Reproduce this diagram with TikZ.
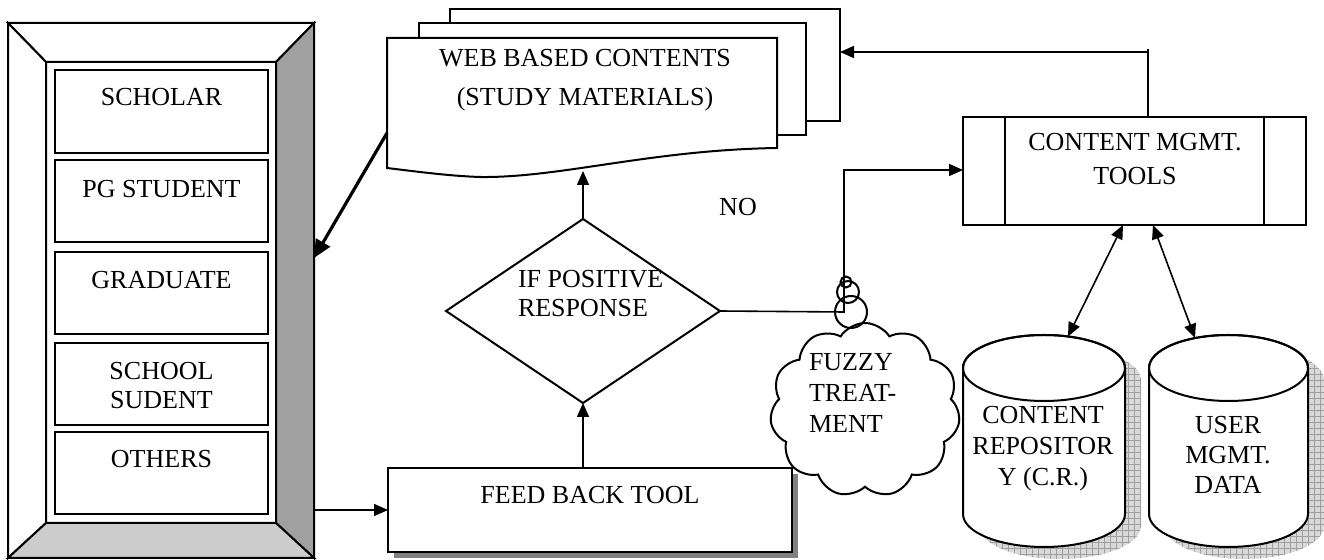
\documentclass[tikz,border=0pt]{standalone}
\usepackage{fontspec}
\setmainfont{Liberation Serif}
\usetikzlibrary{arrows.meta,shapes.symbols,shapes.geometric,patterns}
\definecolor{bevdark}{HTML}{A0A0A0}
\definecolor{bevlight}{HTML}{CCCCCC}
\definecolor{shadowgray}{HTML}{808080}
\begin{document}
\begin{tikzpicture}[x=0.5pt,y=-0.5pt, line width=1pt, line join=miter,
  txt/.style={font=\fontsize{13}{15}\selectfont, inner sep=0pt, align=center},
  arr/.style={-{Triangle[length=7pt,width=6pt]}, line width=0.8pt},
  darr/.style={{Triangle[length=7pt,width=6pt]}-{Triangle[length=7pt,width=6pt]}, line width=0.8pt},
  ubox/.style={draw, fill=white, line width=1pt, inner sep=0pt, outer sep=0pt}]
\useasboundingbox (0,0) rectangle (1324,560);

% ---- bevel frame of users
\filldraw[fill=white] (8,23) -- (314,23) -- (276,62) -- (46,62) -- cycle;
\filldraw[fill=white] (8,23) -- (46,62) -- (46,523) -- (8,558) -- cycle;
\filldraw[fill=bevdark] (314,23) -- (314,558) -- (276,523) -- (276,62) -- cycle;
\filldraw[fill=bevlight] (8,558) -- (314,558) -- (276,523) -- (46,523) -- cycle;
\draw (46,62) rectangle (276,523);
\coordinate (usrA) at (314,258);
\coordinate (usrB) at (314,510);

\node[ubox, minimum width=106.5pt, minimum height=41.5pt] (b1) at (161.5,111.5) {};
\node[ubox, minimum width=106.5pt, minimum height=41pt] (b2) at (161.5,201) {};
\node[ubox, minimum width=106.5pt, minimum height=41pt] (b3) at (161.5,293) {};
\node[ubox, minimum width=106.5pt, minimum height=41pt] (b4) at (161.5,384) {};
\node[ubox, minimum width=106.5pt, minimum height=41pt] (b5) at (161.5,473) {};
\node[txt] (t1) at (161.5,97) {SCHOLAR};
\node[txt] (t2) at (161.5,189) {PG STUDENT};
\node[txt] (t3) at (161.5,280) {GRADUATE};
\node[txt, font=\fontsize{13}{14.5}\selectfont] (t4) at (161.5,386) {SCHOOL\\SUDENT};
\node[txt] (t5) at (161.5,459) {OTHERS};

% ---- web based contents (multi document)
\filldraw[fill=white] (450,9) rectangle (840,121);
\filldraw[fill=white] (419,23) rectangle (806,135);
\filldraw[fill=white] (387,38) -- (777,38) -- (777,148)
  .. controls (650,150) and (560,178) .. (480,177)
  .. controls (450,176) and (420,172) .. (387,168) -- cycle;
\node[txt, font=\fontsize{13}{19.5}\selectfont] (web) at (585,80) {WEB BASED CONTENTS\\(STUDY MATERIALS)};
\coordinate (webL) at (387,133);
\coordinate (webB) at (583,171);
\coordinate (webR) at (840,52);

% ---- decision
\node[diamond, draw, fill=white, minimum width=137pt, minimum height=92pt, inner sep=0pt, outer sep=0pt] (dia) at (583,311) {};
\node[txt, align=left, anchor=west, font=\fontsize{13}{14.5}\selectfont] (diat) at (517,294) {IF POSITIVE\\RESPONSE};
\node[txt] (no) at (738,207) {NO};

% ---- feed back tool
\fill[shadowgray] (394,474) rectangle (798,558);
\node[ubox, minimum width=202pt, minimum height=42pt] (fbt) at (590,510) {};
\node[txt] (fbtt) at (590,495) {FEED BACK TOOL};

% ---- content management tools
\node[ubox, minimum width=171.5pt, minimum height=54pt] (cmt) at (1134.5,171) {};
\draw (1005,117) -- (1005,225);
\draw (1264,117) -- (1264,225);
\node[txt, font=\fontsize{13}{17}\selectfont] (cmtt) at (1135,159.5) {CONTENT MGMT.\\TOOLS};
\coordinate (cmtTop) at (1148,117);
\coordinate (cmtCorner) at (1148,52);
\coordinate (cmtIn) at (963,170);
\coordinate (cmtB1) at (1123,225);
\coordinate (cmtB2) at (1153,225);

% ---- cloud
\node[cloud, draw, fill=white, cloud puffs=11, cloud puff arc=115, aspect=1.1, minimum width=95pt, minimum height=87pt, inner sep=0pt] (fz) at (865,410) {};
\node[txt, align=left, anchor=west, font=\fontsize{13}{15.5}\selectfont] (fzt) at (808,393) {FUZZY\\TREAT-\\MENT};

% ---- cylinders
\foreach \L/\R in {963/1125, 1149/1308} {
  \pgfmathsetmacro\rx{(\R-\L)/2}
  \pgfmathsetmacro\cx{(\R+\L)/2}
  \fill[gray!30, shift={(16,12)}] (\L,368) -- (\L,514) arc[start angle=180,end angle=0,x radius=\rx,y radius=33] -- (\R,368) arc[start angle=0,end angle=-180,x radius=\rx,y radius=33] -- cycle;
  \fill[pattern=grid, pattern color=gray!75, shift={(16,12)}] (\L,368) -- (\L,514) arc[start angle=180,end angle=0,x radius=\rx,y radius=33] -- (\R,368) arc[start angle=0,end angle=-180,x radius=\rx,y radius=33] -- cycle;
  \filldraw[fill=white] (\L,368) -- (\L,514) arc[start angle=180,end angle=0,x radius=\rx,y radius=33] -- (\R,368) arc[start angle=0,end angle=-180,x radius=\rx,y radius=33] -- cycle;
  \draw (\cx,368) ellipse[x radius=\rx, y radius=33];
}
\node[txt, font=\fontsize{13}{15.5}\selectfont] (cr) at (1043,449) {CONTENT\\REPOSITOR\\Y (C.R.)};
\node[txt, font=\fontsize{13}{15}\selectfont] (um) at (1228,455) {USER\\MGMT.\\DATA};
\coordinate (crTop) at (1068,336.5);
\coordinate (umTop) at (1195,338);

% ---- connectors
\draw[-{Triangle[length=9pt,width=8pt]}, line width=1.6pt] (webL) -- (usrA);
\draw[arr] (usrB) -- (fbt.west);
\draw[arr] (fbt.north -| dia.south) -- (dia.south);
\draw[arr] (dia.north) -- (webB);
\draw[arr] (dia.east) -- (844,312) -- (844,170) -- (cmtIn);
\draw (846,282) circle[radius=5.5];
\draw (848,292) circle[radius=11];
\draw (851,312) circle[radius=16];
\draw (cmtTop) -- (1148,49);
\draw[arr] (cmtCorner) -- (webR);
\draw[darr] (crTop) -- (cmtB1);
\draw[darr] (umTop) -- (cmtB2);
\end{tikzpicture}
\end{document}
